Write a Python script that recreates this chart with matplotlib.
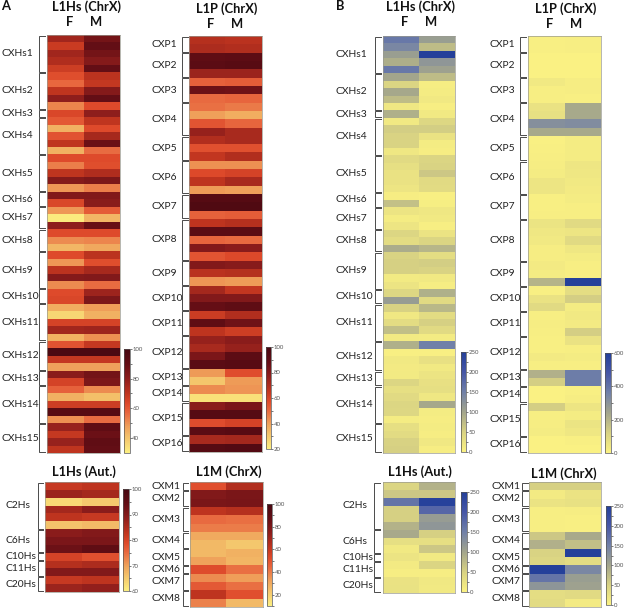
"""
Methylation heatmaps of L1 subfamilies: panel A (red scale) and panel B (blue scale).
Values are read off the picture by eye.
"""
import matplotlib
matplotlib.use("Agg")
import numpy as np
import matplotlib.pyplot as plt
from matplotlib.colors import LinearSegmentedColormap

plt.rcParams["font.family"] = ["Lato", "DejaVu Sans"]

# ----------------------------------------------------------------------
# Groups (row labels and how many rows each bracket spans)
# ----------------------------------------------------------------------
CXHS_NAMES = ["CXHs1", "CXHs2", "CXHs3", "CXHs4", "CXHs5", "CXHs6", "CXHs7", "CXHs8",
              "CXHs9", "CXHs10", "CXHs11", "CXHs12", "CXHs13", "CXHs14", "CXHs15"]
CXHS_COUNTS = [5, 5, 1, 5, 5, 2, 3, 3, 5, 2, 5, 4, 2, 5, 4]

CXP_NAMES = ["CXP1", "CXP2", "CXP3", "CXP4", "CXP5", "CXP6", "CXP7", "CXP8",
             "CXP9", "CXP10", "CXP11", "CXP12", "CXP13", "CXP14", "CXP15", "CXP16"]
CXP_COUNTS = [2, 3, 3, 4, 3, 4, 3, 5, 3, 3, 3, 4, 2, 2, 4, 2]

AUT_NAMES = ["C2Hs", "C6Hs", "C10Hs", "C11Hs", "C20Hs"]
AUT_COUNTS = [6, 3, 1, 2, 2]

CXM_NAMES = ["CXM1", "CXM2", "CXM3", "CXM4", "CXM5", "CXM6", "CXM7", "CXM8"]
CXM_COUNTS = [1, 2, 3, 2, 2, 1, 2, 2]

# ----------------------------------------------------------------------
# Panel A values
# ----------------------------------------------------------------------
A_L1HS_F = [76, 68, 76, 73, 67, 62, 57, 70, 80, 52, 64, 60, 44, 61, 70, 44, 63, 53, 70, 82,
            49, 83, 64, 49, 31, 80, 63, 51, 43, 63, 49, 71, 82, 51, 63, 64, 45, 36, 65, 76,
            44, 61, 98, 69, 47, 81, 65, 58, 44, 67, 94, 50, 78, 69, 78, 70]
A_L1HS_M = [86, 90, 86, 82, 90, 71, 69, 82, 90, 63, 80, 70, 63, 75, 88, 56, 63, 62, 73, 84,
            53, 83, 81, 59, 43, 89, 63, 52, 46, 71, 62, 75, 83, 56, 77, 84, 48, 44, 65, 77,
            50, 69, 98, 69, 47, 86, 84, 51, 41, 67, 94, 56, 91, 88, 91, 90]

A_L1P_F = [68, 70, 90, 92, 74, 52, 86, 50, 49, 40, 55, 75, 69, 56, 65, 43, 58, 66, 41, 94,
           96, 52, 66, 92, 51, 80, 55, 80, 67, 42, 72, 80, 88, 63, 90, 66, 75, 71, 82, 92,
           41, 31, 44, 24, 78, 94, 57, 92, 71, 94]
A_L1P_M = [67, 69, 91, 93, 74, 53, 85, 51, 47, 37, 51, 71, 71, 56, 69, 43, 60, 71, 40, 94,
           96, 53, 68, 92, 50, 78, 58, 79, 68, 41, 65, 80, 90, 69, 85, 62, 78, 75, 91, 93,
           57, 41, 42, 24, 82, 94, 60, 93, 72, 95]

A_AUT_F = [82, 87, 63, 86, 83, 66, 89, 91, 93, 80, 84, 90, 82, 87]
A_AUT_M = [83, 86, 65, 89, 82, 67, 90, 91, 95, 78, 85, 90, 83, 88]

A_L1M_F = [51, 78, 80, 62, 44, 40, 30, 26, 26, 32, 52, 37, 48, 62, 39]
A_L1M_M = [65, 80, 81, 64, 43, 40, 30, 22, 28, 27, 43, 33, 43, 51, 26]

# ----------------------------------------------------------------------
# Panel B values
# ----------------------------------------------------------------------
B_L1HS_F = [160, 140, 110, 90, 160, 100, 45, 97, 75, 18, 88, 14, 55, 48, 48, 18, 38, 30, 25, 25,
            20, 8, 70, 22, 10, 20, 44, 35, 92, 48, 52, 52, 13, 22, 42, 112, 50, 16, 35, 72,
            13, 88, 5, 15, 12, 13, 44, 30, 38, 44, 42, 10, 30, 36, 50, 52]
B_L1HS_M = [110, 75, 250, 120, 105, 75, 8, 10, 14, 6, 15, 42, 55, 25, 10, 8, 45, 48, 62, 38,
            36, 5, 7, 18, 14, 6, 24, 45, 82, 33, 55, 48, 15, 8, 88, 38, 80, 35, 52, 38,
            11, 150, 5, 28, 15, 22, 28, 30, 18, 97, 10, 8, 10, 8, 16, 8]

B_L1P_F = [10, 10, 5, 5, 5, 35, 15, 15, 60, 70, 310, 230, 8, 10, 15, 20, 25, 50, 50, 10,
           10, 15, 55, 40, 35, 20, 20, 30, 25, 200, 10, 60, 90, 15, 20, 15, 10, 10, 30, 15,
           210, 130, 5, 5, 130, 15, 20, 25, 5, 5]
B_L1P_M = [15, 15, 5, 5, 5, 20, 20, 10, 230, 230, 320, 230, 25, 25, 25, 45, 40, 35, 30, 25,
           15, 15, 90, 50, 90, 40, 25, 15, 15, 600, 80, 130, 25, 35, 30, 130, 60, 15, 25, 15,
           370, 370, 10, 20, 50, 25, 55, 40, 10, 5]

B_AUT_F = [45, 62, 165, 52, 52, 85, 95, 30, 15, 22, 12, 8, 25, 26]
B_AUT_M = [85, 62, 245, 180, 112, 120, 52, 30, 62, 14, 45, 8, 16, 15]

B_L1M_F = [52, 12, 24, 6, 6, 6, 62, 87, 48, 44, 250, 165, 122, 33, 36]
B_L1M_M = [52, 24, 27, 8, 5, 5, 95, 72, 250, 35, 140, 110, 105, 38, 12]

# ----------------------------------------------------------------------
# Colour scales
# ----------------------------------------------------------------------
RED_COLORS = [(0.0, "#fcef80"), (0.14, "#f4c56c"), (0.25, "#efa05a"), (0.38, "#e8683f"),
              (0.47, "#de4a2b"), (0.57, "#c0351f"), (0.71, "#8f1e1c"), (0.85, "#650e15"),
              (1.0, "#470811")]
BLUE_COLORS = [(0.0, "#fbf283"), (0.2, "#d8d283"), (0.4, "#a3a58c"), (0.6, "#7080a8"),
               (0.8, "#4656a6"), (1.0, "#24409a")]
REDS = LinearSegmentedColormap.from_list("reds", RED_COLORS)
BLUES = LinearSegmentedColormap.from_list("blues", BLUE_COLORS)

W, H = 624, 608
LABEL_SIZE = 7.4
TITLE_SIZE = 9.3

fig = plt.figure(figsize=(W / 100, H / 100), dpi=100, facecolor="white")


def px_text(x, y, s, **kw):
    return fig.text(x / W, 1 - y / H, s, va="center", **kw)


def heatmap(box, f_vals, m_vals, names, counts, label_x, bracket_x, cbox, vmin, vmax, major, minor, cmap):
    x0, y0, x1, y1 = box
    ax = fig.add_axes([x0 / W, 1 - y1 / H, (x1 - x0) / W, (y1 - y0) / H])
    data = np.column_stack([f_vals, m_vals])
    mesh = ax.pcolormesh(data, cmap=cmap, vmin=vmin, vmax=vmax)
    ax.set_ylim(data.shape[0], 0)
    ax.set_xticks([])
    ax.set_yticks([])
    for sp in ax.spines.values():
        sp.set_color("#9a9a90")
        sp.set_linewidth(0.5)

    # brackets and group labels left of the map
    row_h = (y1 - y0) / data.shape[0]
    arm_l = (bracket_x - x0) / (x1 - x0)
    arm_r = arm_l + 5.5 / (x1 - x0)
    trans = ax.get_yaxis_transform()
    start = 0
    for name, n in zip(names, counts):
        top = start + 0.08
        bot = start + n - 0.08
        ax.plot([arm_r, arm_l, arm_l, arm_r], [top, top, bot, bot], transform=trans,
                color="#4a4a4a", lw=0.7, clip_on=False, solid_joinstyle="miter")
        px_text(label_x, y0 + (start + n / 2) * row_h, name, fontsize=LABEL_SIZE, color="#222222")
        start += n

    # colour bar with its small grey tick labels
    cx0, cy0, cx1, cy1 = cbox
    cax = fig.add_axes([cx0 / W, 1 - cy1 / H, (cx1 - cx0) / W, (cy1 - cy0) / H])
    cb = fig.colorbar(mesh, cax=cax, ticks=major)
    cb.ax.yaxis.set_ticks(minor, minor=True)
    cb.ax.tick_params(which="major", length=1.5, width=0.5, labelsize=4.3, labelcolor="#555555",
                      color="#444444", pad=0.5)
    cb.ax.tick_params(which="minor", length=1.5, width=0.5, color="#444444")
    cb.outline.set_linewidth(0.5)
    cb.outline.set_edgecolor("#555555")
    return ax


# ----------------------------------------------------------------------
# Panel A
# ----------------------------------------------------------------------
heatmap((47, 35, 120, 453), A_L1HS_F, A_L1HS_M, CXHS_NAMES, CXHS_COUNTS, 1, 39,
        (124, 349, 129.5, 452.7), 30, 100, [40, 60, 80, 100], [50, 70, 90], REDS)
heatmap((189, 36, 262, 452), A_L1P_F, A_L1P_M, CXP_NAMES, CXP_COUNTS, 152, 182,
        (266, 347, 271, 449), 20, 100, [20, 40, 60, 80, 100], [30, 50, 70, 90], REDS)
heatmap((45, 482, 119, 592), A_AUT_F, A_AUT_M, AUT_NAMES, AUT_COUNTS, 6, 38,
        (123, 489, 129, 591), 60, 100, [60, 70, 80, 90, 100], [65, 75, 85, 95], REDS)
heatmap((190, 482, 263, 607), A_L1M_F, A_L1M_M, CXM_NAMES, CXM_COUNTS, 152, 183,
        (266.7, 504, 272, 606), 10, 100, [20, 40, 60, 80, 100], [10, 30, 50, 70, 90], REDS)

# ----------------------------------------------------------------------
# Panel B
# ----------------------------------------------------------------------
heatmap((383, 36, 455, 453), B_L1HS_F, B_L1HS_M, CXHS_NAMES, CXHS_COUNTS, 336, 375,
        (461, 352, 466, 452), 0, 250, [0, 50, 100, 150, 200, 250], [25, 75, 125, 175, 225], BLUES)
heatmap((528, 36, 601, 453), B_L1P_F, B_L1P_M, CXP_NAMES, CXP_COUNTS, 489, 520,
        (605, 353, 611, 453), 0, 600, [0, 200, 400, 600], [100, 300, 500], BLUES)
heatmap((383, 482, 455, 593), B_AUT_F, B_AUT_M, AUT_NAMES, AUT_COUNTS, 342, 374,
        (461, 492, 467, 592), 0, 250, [0, 50, 100, 150, 200, 250], [25, 75, 125, 175, 225], BLUES)
heatmap((529, 482, 601, 607), B_L1M_F, B_L1M_M, CXM_NAMES, CXM_COUNTS, 491, 522,
        (606, 506, 611, 605), 0, 250, [0, 50, 100, 150, 200, 250], [25, 75, 125, 175, 225], BLUES)

# ----------------------------------------------------------------------
# Titles, F / M headers and panel letters
# ----------------------------------------------------------------------
bold = dict(fontweight="bold", color="#111111", ha="center")
px_text(86, 7, "L1Hs (ChrX)", fontsize=TITLE_SIZE, **bold)
px_text(70, 22, "F", fontsize=TITLE_SIZE, **bold)
px_text(96, 22, "M", fontsize=TITLE_SIZE, **bold)
px_text(227, 9, "L1P (ChrX)", fontsize=TITLE_SIZE, **bold)
px_text(211, 24, "F", fontsize=TITLE_SIZE, **bold)
px_text(237, 24, "M", fontsize=TITLE_SIZE, **bold)
px_text(84, 472, "L1Hs (Aut.)", fontsize=TITLE_SIZE, **bold)
px_text(229, 472, "L1M (ChrX)", fontsize=TITLE_SIZE, **bold)

px_text(421, 7, "L1Hs (ChrX)", fontsize=TITLE_SIZE, **bold)
px_text(405, 22, "F", fontsize=TITLE_SIZE, **bold)
px_text(431, 22, "M", fontsize=TITLE_SIZE, **bold)
px_text(566, 9, "L1P (ChrX)", fontsize=TITLE_SIZE, **bold)
px_text(550, 24, "F", fontsize=TITLE_SIZE, **bold)
px_text(576, 24, "M", fontsize=TITLE_SIZE, **bold)
px_text(420, 472, "L1Hs (Aut.)", fontsize=TITLE_SIZE, **bold)
px_text(564, 474, "L1M (ChrX)", fontsize=TITLE_SIZE, **bold)

px_text(6, 6, "A", fontsize=TITLE_SIZE, **bold)
px_text(340, 6, "B", fontsize=TITLE_SIZE, **bold)

fig.savefig("out.png", dpi=100)
